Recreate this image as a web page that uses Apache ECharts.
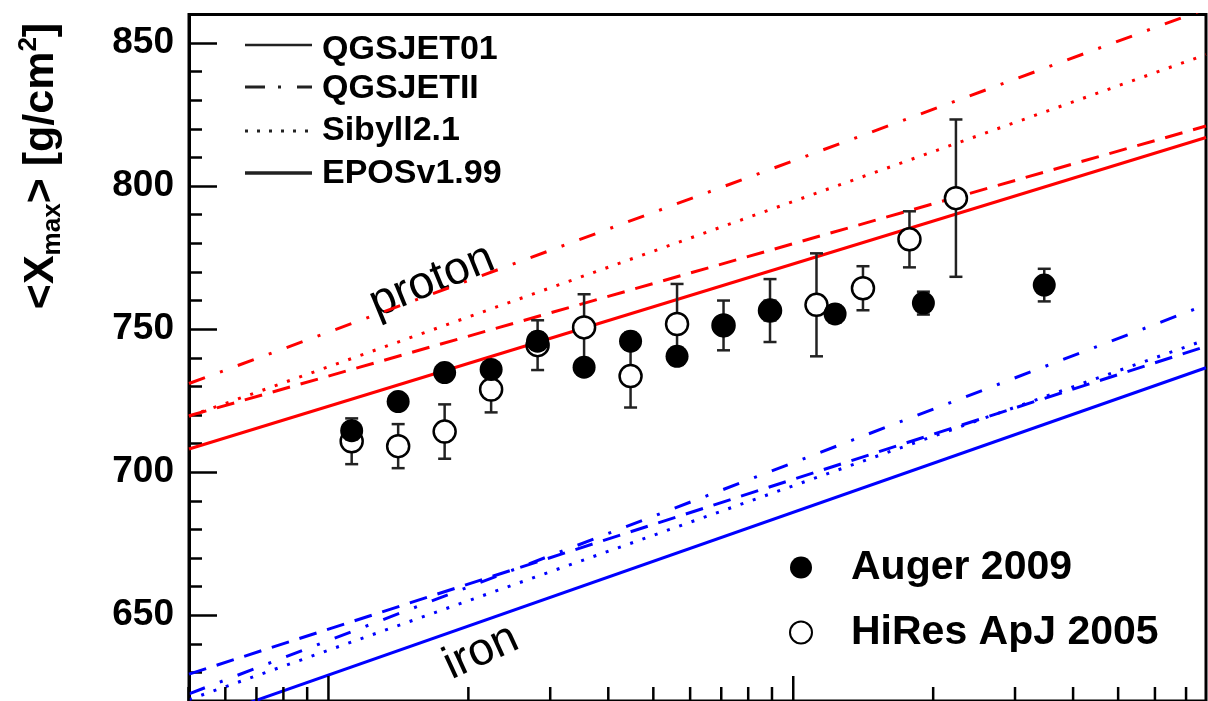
<!DOCTYPE html>
<html>
<head>
<meta charset="utf-8">
<script src="https://cdn.jsdelivr.net/npm/echarts@6/dist/echarts.min.js"></script>
<style>
html,body{margin:0;padding:0;background:#fff;}
#chart01{width:1208px;height:701px;}
</style>
</head>
<body>
<div id="chart01"></div>
<script>
// lg(E/eV) of each bin, <Xmax> and error in g/cm2
var augerLgE = [18.05, 18.15, 18.25, 18.35, 18.45, 18.55, 18.65, 18.75, 18.85, 18.95, 19.09, 19.28, 19.54];
var augerXmax = [714.5, 724.7, 734.8, 735.9, 745.8, 736.7, 745.8, 740.5, 751.3, 756.5, 755.3, 759.1, 765.4];
var augerErr = [3, 2.5, 2.5, 2.5, 3, 2.5, 3, 3, 3, 3.5, 3, 4, 5.7];

var hiresLgE = [18.05, 18.15, 18.25, 18.35, 18.45, 18.55, 18.65, 18.75, 18.85, 18.95, 19.05, 19.15, 19.25, 19.35];
var hiresXmax = [710.8, 709.1, 714.2, 728.9, 744.4, 750.6, 733.6, 751.8, 751.3, 756.5, 758.5, 764.3, 781.4, 795.8];
var hiresErr = [8, 7.7, 9.5, 8, 8.7, 11.6, 11, 14, 8.7, 11, 18, 7.7, 9.8, 27.5];

// model predictions, value at the two ends of the lgE range
var modelLgE = [17.7, 19.888];
var protonQGSJET01 = [719.7, 821.0];
var protonQGSJETII = [731.0, 862.0];
var protonSibyll = [719.5, 846.0];
var protonEPOS = [708.1, 817.0];
var ironQGSJET01 = [629.4, 744.0];
var ironQGSJETII = [622.5, 758.5];
var ironSibyll = [620.5, 746.3];
var ironEPOS = [612.0, 736.5];

// axis ticks
var xMajorTicks = [1e18, 1e19];
var xMinorTicks = [5e17, 6e17, 7e17, 8e17, 9e17,
        2e18, 3e18, 4e18, 5e18, 6e18, 7e18, 8e18, 9e18,
        2e19, 3e19, 4e19, 5e19, 6e19, 7e19];
var yLabels = [650, 700, 750, 800, 850];

var yMin = 620, yMax = 860;
var font = 'Liberation Sans';

var dashDot = [17, 16, 3, 16];
var dashed = [18, 11];
var dotted = [3, 10];

function pairs(xs, ys) {
        return xs.map(function (x, i) { return [x, ys[i]]; });
}

function modelLine(name, ys, color, type) {
        return {
                name: name,
                type: 'line',
                data: pairs(modelLgE, ys),
                symbol: 'none',
                silent: true,
                z: 2,
                lineStyle: {color: color, width: 3, type: type}
        };
}

function tickSeries(vals, len) {
        return {
                type: 'custom',
                silent: true,
                clip: false,
                z: 8,
                data: vals.map(function (v) { return [Math.log10(v), yMin]; }),
                renderItem: function (params, api) {
                        var p = api.coord([api.value(0), yMin]);
                        return {type: 'line', shape: {x1: p[0], y1: p[1], x2: p[0], y2: p[1] - len},
                                style: {stroke: '#000', lineWidth: 2.5}};
                }
        };
}

function errorBars(name, xs, ys, errs, z) {
        return {
                name: name,
                type: 'custom',
                silent: true,
                z: z,
                data: xs.map(function (x, i) { return [x, ys[i] - errs[i], ys[i] + errs[i]]; }),
                encode: {x: 0, y: [1, 2]},
                renderItem: function (params, api) {
                        var lo = api.coord([api.value(0), api.value(1)]);
                        var hi = api.coord([api.value(0), api.value(2)]);
                        var w = 6.5;
                        var st = {stroke: '#222', lineWidth: 2.5};
                        return {type: 'group', children: [
                                {type: 'line', shape: {x1: lo[0], y1: lo[1], x2: hi[0], y2: hi[1]}, style: st},
                                {type: 'line', shape: {x1: lo[0] - w, y1: lo[1], x2: lo[0] + w, y2: lo[1]}, style: st},
                                {type: 'line', shape: {x1: hi[0] - w, y1: hi[1], x2: hi[0] + w, y2: hi[1]}, style: st}
                        ]};
                }
        };
}

function legendRow(y, ty, text, dash, width) {
        return [
                {type: 'line', shape: {x1: 245, y1: y, x2: 312, y2: y},
                        style: {stroke: '#222', lineWidth: width, lineDash: dash}},
                {type: 'text', x: 322, y: ty,
                        style: {text: text, font: 'bold 34px ' + font, fill: '#000', verticalAlign: 'middle'}}
        ];
}

var myChart = echarts.init(document.getElementById('chart01'));

option = {
        backgroundColor: '#fff',
        animation: false,
        grid: {left: 189, right: 2, top: 14.5, bottom: -4.3, show: true, borderColor: '#000', borderWidth: 3},
        xAxis: {
                type: 'value', min: 17.7, max: 19.888,
                axisLine: {show: false}, axisTick: {show: false}, axisLabel: {show: false}, splitLine: {show: false}
        },
        yAxis: [
                {
                        type: 'value', min: yMin, max: yMax, interval: 10,
                        axisLine: {show: true, lineStyle: {color: '#000', width: 3}},
                        axisTick: {inside: true, length: 13, lineStyle: {color: '#000', width: 2.5}},
                        axisLabel: {show: false},
                        splitLine: {show: false}
                },
                {
                        type: 'value', min: yMin, max: yMax, position: 'left', offset: 0,
                        axisLine: {show: false},
                        axisTick: {inside: true, length: 28, customValues: yLabels, lineStyle: {color: '#000', width: 2.5}},
                        axisLabel: {customValues: yLabels, fontSize: 37, fontWeight: 'bold', fontFamily: font, color: '#000', margin: 15},
                        splitLine: {show: false}
                }
        ],
        legend: {
                data: ['Auger 2009', 'HiRes ApJ 2005'],
                orient: 'vertical',
                left: 784, top: 542,
                itemWidth: 22, itemHeight: 22, itemGap: 24,
                selectedMode: false,
                textStyle: {fontSize: 41, fontWeight: 'bold', fontFamily: font, color: '#000', lineHeight: 22, padding: [0, 0, 0, 34]}
        },
        graphic: [
                {type: 'text', x: 41, y: 166, rotation: Math.PI / 2,
                        style: {
                                text: '{a|<X}{sub|max}{a|> [g/cm}{sup|2}{a|]}',
                                align: 'center', verticalAlign: 'middle',
                                rich: {
                                        a: {font: 'bold 43px ' + font, fill: '#000', lineHeight: 50},
                                        sub: {font: 'bold 26px ' + font, fill: '#000', lineHeight: 26, verticalAlign: 'bottom'},
                                        sup: {font: 'bold 26px ' + font, fill: '#000', lineHeight: 26, verticalAlign: 'top'}
                                }
                        }},
                {type: 'text', x: 432, y: 281, rotation: 0.39,
                        style: {text: 'proton', font: '46px ' + font, fill: '#000', align: 'center', verticalAlign: 'middle'}},
                {type: 'text', x: 481, y: 652, rotation: 0.43,
                        style: {text: 'iron', font: '46px ' + font, fill: '#000', align: 'center', verticalAlign: 'middle'}}
        ].concat(legendRow(45, 50, 'QGSJET01', null, 2.5))
         .concat(legendRow(87, 89, 'QGSJETII', [20, 13, 3, 16], 3))
         .concat(legendRow(131, 131, 'Sibyll2.1', [3, 9], 3))
         .concat(legendRow(173, 174, 'EPOSv1.99', null, 3.5)),
        series: [
                modelLine('QGSJET01 p', protonQGSJET01, '#ff0000', dashed),
                modelLine('QGSJETII p', protonQGSJETII, '#ff0000', dashDot),
                modelLine('Sibyll2.1 p', protonSibyll, '#ff0000', dotted),
                modelLine('EPOSv1.99 p', protonEPOS, '#ff0000', 'solid'),
                modelLine('QGSJET01 Fe', ironQGSJET01, '#0000ff', dashed),
                modelLine('QGSJETII Fe', ironQGSJETII, '#0000ff', dashDot),
                modelLine('Sibyll2.1 Fe', ironSibyll, '#0000ff', dotted),
                modelLine('EPOSv1.99 Fe', ironEPOS, '#0000ff', 'solid'),
                errorBars('HiRes err', hiresLgE, hiresXmax, hiresErr, 3),
                {
                        name: 'HiRes ApJ 2005',
                        type: 'scatter',
                        data: pairs(hiresLgE, hiresXmax),
                        symbol: 'circle',
                        symbolSize: 22,
                        z: 4,
                        itemStyle: {color: '#fff', borderColor: '#000', borderWidth: 2.5, opacity: 1}
                },
                errorBars('Auger err', augerLgE, augerXmax, augerErr, 5),
                {
                        name: 'Auger 2009',
                        type: 'scatter',
                        data: pairs(augerLgE, augerXmax),
                        symbol: 'circle',
                        symbolSize: 23,
                        z: 6,
                        itemStyle: {color: '#000', opacity: 1}
                },
                tickSeries(xMajorTicks, 25),
                tickSeries(xMinorTicks, 14)
        ]
};
myChart.setOption(option);
</script>
</body>
</html>
